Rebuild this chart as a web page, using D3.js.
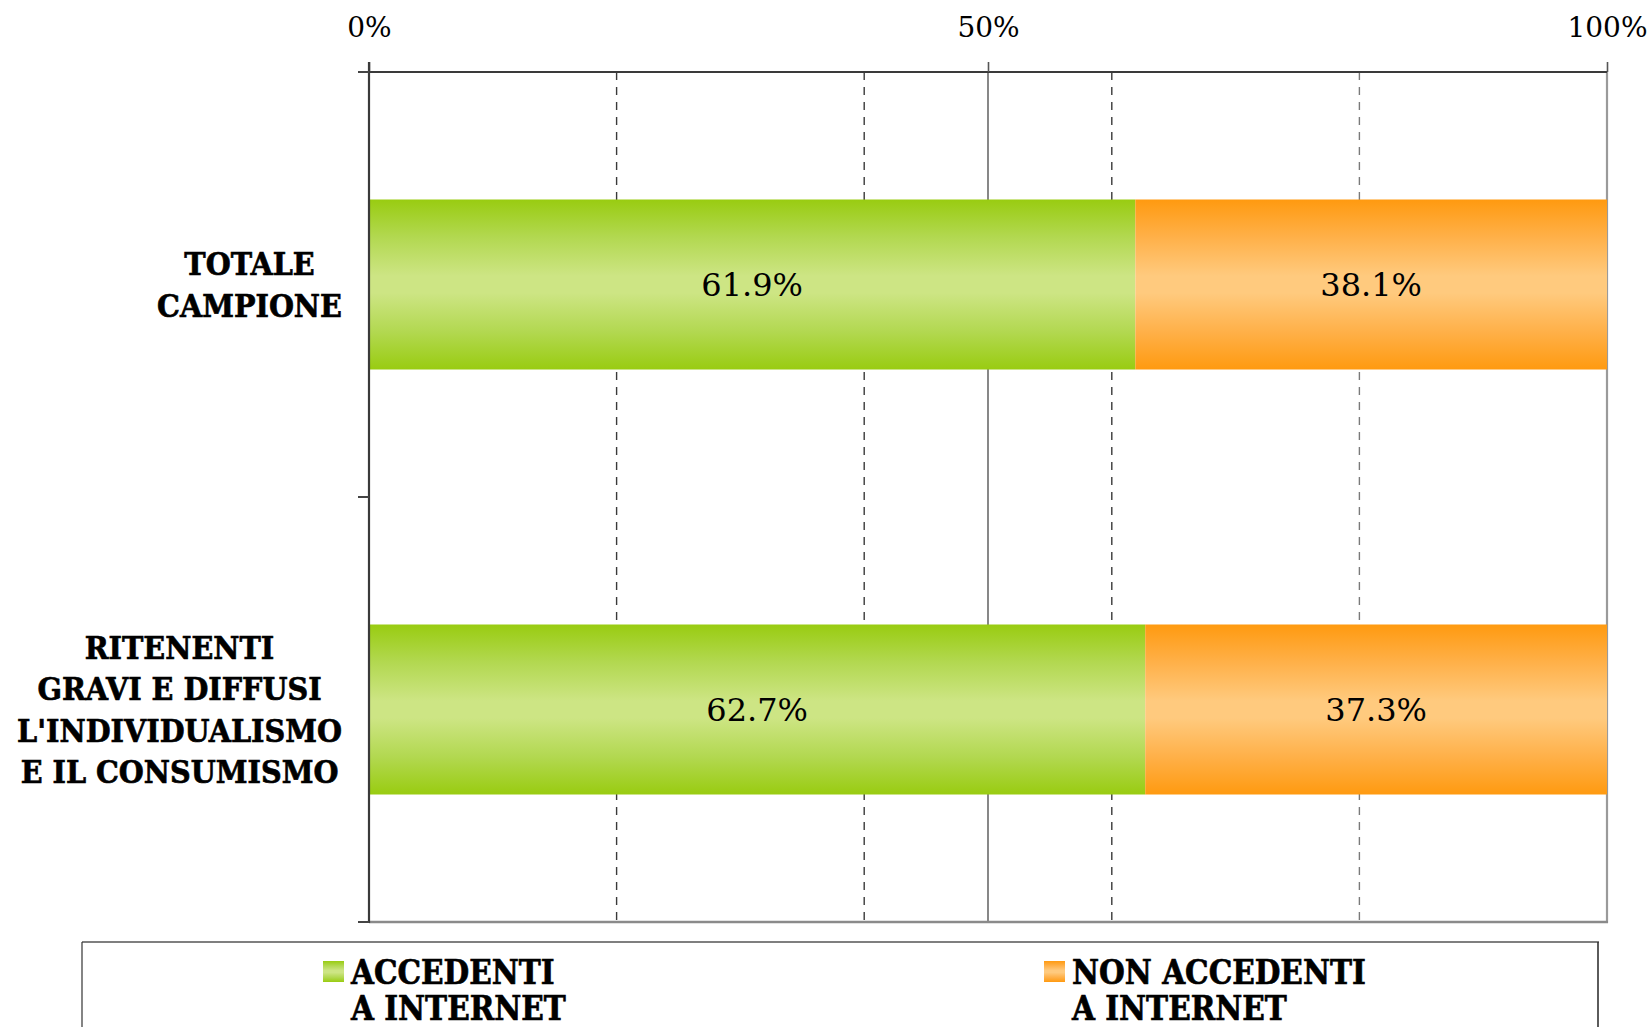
<!DOCTYPE html>
<html>
<head>
<meta charset="utf-8">
<script src="https://cdn.jsdelivr.net/npm/d3@7"></script>
<style>
  html, body { margin: 0; padding: 0; background: #ffffff; }
  svg { display: block; }
</style>
</head>
<body>
<svg id="chart" width="1650" height="1027"></svg>
<script>
// ---------- data ----------
const categories = [
  ["TOTALE", "CAMPIONE"],
  ["RITENENTI", "GRAVI E DIFFUSI", "L'INDIVIDUALISMO", "E IL CONSUMISMO"]
];
const categoryKeys = ["TOTALE CAMPIONE", "RITENENTI GRAVI E DIFFUSI L'INDIVIDUALISMO E IL CONSUMISMO"];
const accedenti = [61.9, 62.7];
const nonAccedenti = [38.1, 37.3];
const seriesNames = [["ACCEDENTI", "A INTERNET"], ["NON ACCEDENTI", "A INTERNET"]];
const majorTicks = [0, 50, 100];
const minorTicks = [20, 40, 60, 80];

// ---------- layout ----------
const W = 1650, H = 1027;
const plot = { left: 369, right: 1607, top: 72, bottom: 922 };
const svg = d3.select("#chart");
const defs = svg.append("defs");

function vGrad2(id, edge, mid, mid2) {
  const g = defs.append("linearGradient").attr("id", id)
    .attr("x1", 0).attr("y1", 0).attr("x2", 0).attr("y2", 1);
  [[0, edge], [0.22, mid2], [0.45, mid], [0.55, mid], [0.78, mid2], [1, edge]].forEach(([o, c]) => {
    g.append("stop").attr("offset", o).attr("stop-color", c);
  });
}
vGrad2("gGreen", "#99cc11", "#cde584", "#b2d850");
vGrad2("gOrange", "#ff9a10", "#ffca7e", "#ffb048");

const x = d3.scaleLinear().domain([0, 100]).range([plot.left, plot.right]);
const y = d3.scaleBand().domain(categoryKeys).range([plot.top, plot.bottom])
  .paddingInner(0.6).paddingOuter(0.3);

// ---------- gridlines ----------
svg.append("g").selectAll("line.minor").data(minorTicks).join("line")
  .attr("x1", d => x(d)).attr("x2", d => x(d))
  .attr("y1", plot.top).attr("y2", plot.bottom)
  .attr("stroke", d => d === 80 ? "#7a7a7a" : "#3a3a3a")
  .attr("stroke-width", 1.4)
  .attr("stroke-dasharray", "8,7");

svg.append("line")
  .attr("x1", x(50)).attr("x2", x(50))
  .attr("y1", plot.top).attr("y2", plot.bottom)
  .attr("stroke", "#6a6a6a").attr("stroke-width", 1.6);

// right + bottom border (gray)
svg.append("line")
  .attr("x1", plot.right).attr("x2", plot.right)
  .attr("y1", plot.top).attr("y2", plot.bottom + 1)
  .attr("stroke", "#9a9a9a").attr("stroke-width", 2.2);
svg.append("line")
  .attr("x1", plot.left).attr("x2", plot.right + 1)
  .attr("y1", plot.bottom).attr("y2", plot.bottom)
  .attr("stroke", "#8a8a8a").attr("stroke-width", 2.4);

// ---------- bars ----------
const rows = categoryKeys.map((k, i) => ({ key: k, a: accedenti[i], n: nonAccedenti[i] }));
const barG = svg.append("g");
barG.selectAll("rect.a").data(rows).join("rect")
  .attr("x", x(0)).attr("y", d => y(d.key))
  .attr("width", d => x(d.a) - x(0)).attr("height", y.bandwidth())
  .attr("fill", "url(#gGreen)");
barG.selectAll("rect.n").data(rows).join("rect")
  .attr("x", d => x(d.a)).attr("y", d => y(d.key))
  .attr("width", d => x(d.a + d.n) - x(d.a)).attr("height", y.bandwidth())
  .attr("fill", "url(#gOrange)");

const valFont = "'DejaVu Serif', 'Liberation Serif', serif";
barG.selectAll("text.a").data(rows).join("text")
  .attr("x", d => x(d.a / 2)).attr("y", d => y(d.key) + y.bandwidth() / 2)
  .attr("dy", "0.36em").attr("text-anchor", "middle")
  .style("font-family", valFont).style("font-size", "32px").attr("fill", "#000")
  .text(d => d.a.toFixed(1) + "%");
barG.selectAll("text.n").data(rows).join("text")
  .attr("x", d => x(d.a + d.n / 2)).attr("y", d => y(d.key) + y.bandwidth() / 2)
  .attr("dy", "0.36em").attr("text-anchor", "middle")
  .style("font-family", valFont).style("font-size", "32px").attr("fill", "#000")
  .text(d => d.n.toFixed(1) + "%");

// ---------- top axis ----------
const topAxis = d3.axisTop(x).tickValues(majorTicks).tickSize(10).tickPadding(25)
  .tickFormat(d => d + "%");
const gTop = svg.append("g").attr("transform", `translate(0,${plot.top})`).call(topAxis);
gTop.select(".domain").attr("stroke", "#3a3a3a").attr("stroke-width", 2.2)
  .attr("d", `M${plot.left - 11},0H${plot.right}`);
gTop.selectAll(".tick line").attr("stroke", "#555").attr("stroke-width", 1.6);
gTop.selectAll(".tick text").style("font-family", valFont).style("font-size", "28px").attr("fill", "#000");

// ---------- left axis ----------
const yEdges = d3.scaleLinear().domain([0, 2]).range([plot.top, plot.bottom]);
svg.append("line")
  .attr("x1", plot.left).attr("x2", plot.left)
  .attr("y1", plot.top - 10).attr("y2", plot.bottom + 1)
  .attr("stroke", "#3a3a3a").attr("stroke-width", 2.2);
svg.append("g").selectAll("line").data([0, 1, 2]).join("line")
  .attr("x1", plot.left - 11).attr("x2", plot.left)
  .attr("y1", d => yEdges(d)).attr("y2", d => yEdges(d))
  .attr("stroke", "#444").attr("stroke-width", 2);

// ---------- category labels ----------
const boldFont = "'DejaVu Serif', 'Liberation Serif', serif";
const labelRight = 342, lineH = 41.5, capH = 23;
const catG = svg.append("g");
categories.forEach((lines, i) => {
  const cy = y(categoryKeys[i]) + y.bandwidth() / 2;
  const g = catG.append("g");
  const t = g.append("text")
    .style("font-family", boldFont).style("font-weight", "bold").style("font-size", "32px")
    .attr("text-anchor", "middle").attr("fill", "#000")
    .attr("stroke", "#000").attr("stroke-width", 0.7);
  const blockH = (lines.length - 1) * lineH + capH;
  const firstBase = cy - blockH / 2 + capH;
  lines.forEach((l, j) => {
    t.append("tspan").attr("x", 0).attr("y", firstBase + j * lineH).text(l);
  });
});
// horizontal condensation to match reference glyph widths
let widest = 0;
catG.selectAll("tspan").each(function () { widest = Math.max(widest, this.getComputedTextLength()); });
const k = 325 / widest;
catG.selectAll("g").each(function () {
  let mw = 0;
  d3.select(this).selectAll("tspan").each(function () { mw = Math.max(mw, this.getComputedTextLength()); });
  const w = mw * k;
  d3.select(this).attr("transform", `translate(${labelRight - w / 2},0) scale(${k},1)`);
});

// ---------- legend ----------
const lg = svg.append("g");
const lgBox = { left: 82, right: 1598, top: 942 };
lg.append("line").attr("x1", lgBox.left).attr("x2", lgBox.right + 1)
  .attr("y1", lgBox.top).attr("y2", lgBox.top).attr("stroke", "#7f7f7f").attr("stroke-width", 2.2);
lg.append("line").attr("x1", lgBox.left).attr("x2", lgBox.left)
  .attr("y1", lgBox.top).attr("y2", H).attr("stroke", "#333").attr("stroke-width", 1.2);
lg.append("line").attr("x1", lgBox.right).attr("x2", lgBox.right)
  .attr("y1", lgBox.top).attr("y2", H).attr("stroke", "#333").attr("stroke-width", 1.6);

const legendX = [323, 1044];
const legendFill = ["url(#gGreen)", "url(#gOrange)"];
seriesNames.forEach((lines, i) => {
  lg.append("rect").attr("x", legendX[i]).attr("y", 961).attr("width", 21).attr("height", 21)
    .attr("fill", legendFill[i]);
  const tg = lg.append("g").attr("transform", `translate(${legendX[i] + 28},0) scale(${k},1)`);
  const t = tg.append("text")
    .style("font-family", boldFont).style("font-weight", "bold").style("font-size", "33px")
    .attr("fill", "#000").attr("stroke", "#000").attr("stroke-width", 0.7);
  lines.forEach((l, j) => t.append("tspan").attr("x", 0).attr("y", 984 + j * 36).text(l));
});
</script>
</body>
</html>
